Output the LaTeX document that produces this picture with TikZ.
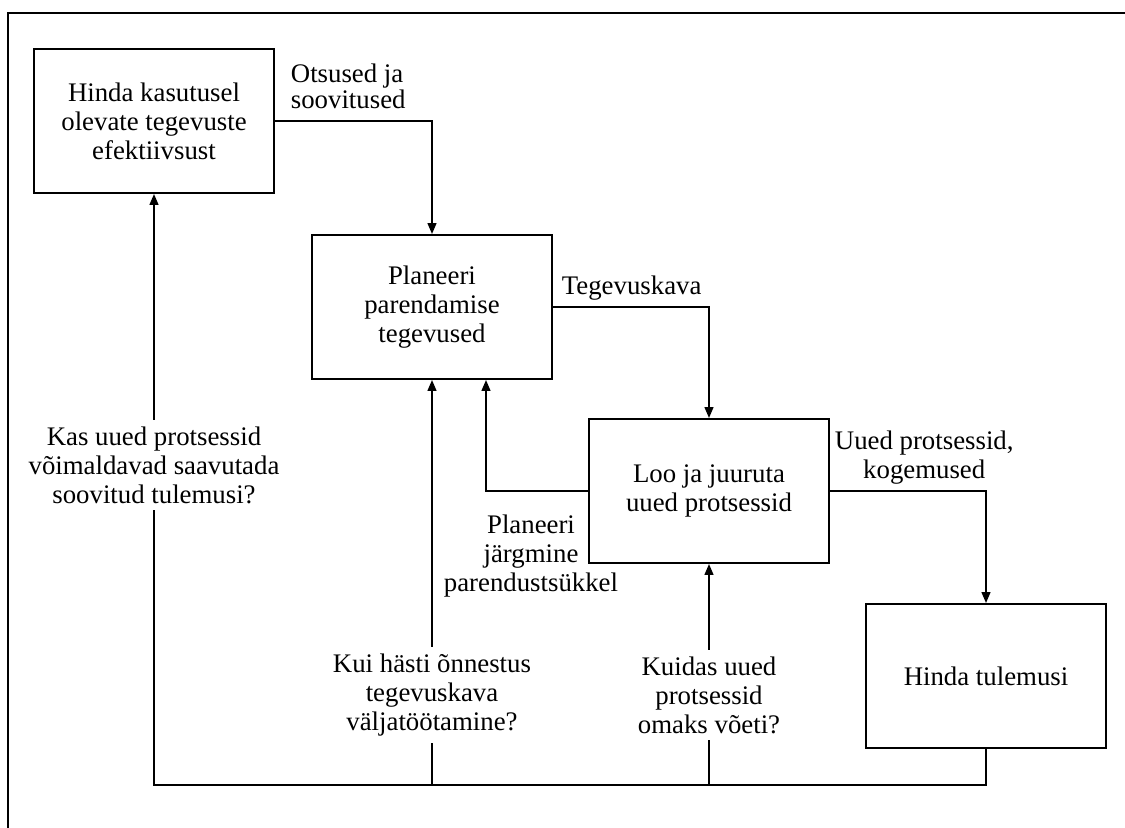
\documentclass[tikz,border=0pt]{standalone}
\usepackage{fontspec}
\setmainfont{Liberation Serif}
\usepackage{tikz}
\usetikzlibrary{positioning,arrows.meta}
\newcommand{\dfont}{\fontsize{13.4}{14.5}\selectfont}
\tikzset{
    proc-box/.style = {draw, rectangle, minimum width=120pt, minimum height=72pt, align=center, font=\dfont},
    flow-label/.style = {align=center, inner sep=2pt, font=\dfont},
    question/.style = {align=center, inner sep=3pt, font=\dfont},
    flow-arrow/.style = {-{Triangle[length=5.5pt,width=4.4pt]}},
}

\begin{document}
\begin{tikzpicture}[x=0.5pt, y=-0.5pt, line width=0.95pt]
\useasboundingbox (0,0) rectangle (1125,828);
\draw[line width=1.4pt] (1125,13) -- (8,13) -- (8,828);

\node [proc-box] (b1) at (154,121) {Hinda kasutusel\\olevate tegevuste\\efektiivsust};
\node [proc-box] (b2) at (432,307) {Planeeri\\parendamise\\tegevused};
\node [proc-box] (b3) at (709,491) {Loo ja juuruta\\uued protsessid};
\node [proc-box] (b4) at (986,676) {Hinda tulemusi};
\coordinate (base) at (0,785);

\node [question] (q1) at (154,465) {Kas uued protsessid\\võimaldavad saavutada\\soovitud tulemusi?};
\node [question] (q2) at (432,695) {Kui hästi õnnestus\\tegevuskava\\väljatöötamine?};
\node [question] (q3) at (709,695) {Kuidas uued\\protsessid\\omaks võeti?};

\draw[flow-arrow] (b1.east) -| (b2.north);
\node[flow-label, align=left, font=\fontsize{13.4}{12}\selectfont, above right=3.5pt and 5.5pt] at (b1.east) {Otsused ja\\soovitused};
\draw[flow-arrow] (b2.east) -| (b3.north);
\node[flow-label, above right=1pt and 2pt] at (b2.east) {Tegevuskava};
\draw[flow-arrow] (b3.east) -| (b4.north);
\node[flow-label, above right=1pt and 0pt] at (b3.east) {Uued protsessid,\\kogemused};
\draw[flow-arrow] (b3.west) -| ([xshift=27pt]b2.south);
\node[flow-label] (next) at (531,556) {Planeeri\\järgmine\\parendustsükkel};

% tagasiside
\draw (b4.south) -- (b4.south |- base) -- (q1 |- base) -- (q1);
\draw[flow-arrow] (q1) -- (b1.south);
\draw (q2 |- base) -- (q2);
\draw[flow-arrow] (q2) -- (b2.south);
\draw (q3 |- base) -- (q3);
\draw[flow-arrow] (q3) -- (b3.south);
\end{tikzpicture}
\end{document}
